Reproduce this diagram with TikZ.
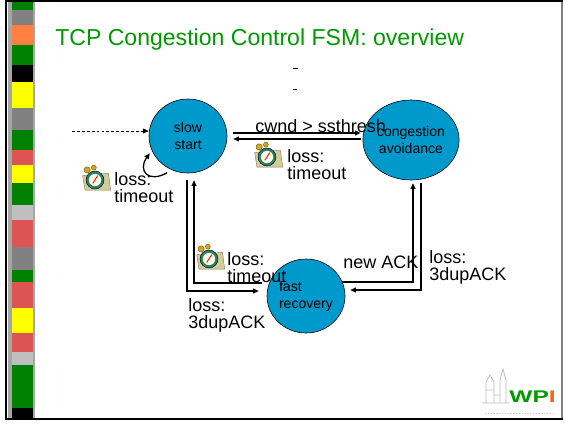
\documentclass[tikz,border=0pt]{standalone}
\usepackage{fontspec}
\setmainfont{Liberation Sans}
\usetikzlibrary{shapes, arrows.meta}
\definecolor{statecolor}{rgb}{0.0, 0.6, 0.8}
\definecolor{titlecolor}{rgb}{0.0, 0.6, 0.0}
\definecolor{bargreen}{rgb}{0.0, 0.5, 0.0}
\definecolor{barred}{rgb}{0.87, 0.33, 0.33}
\definecolor{baryellow}{rgb}{1.0, 1.0, 0.0}
\definecolor{barorange}{rgb}{1.0, 0.5, 0.25}
\definecolor{bargray}{rgb}{0.5, 0.5, 0.5}
\definecolor{barlight}{rgb}{0.75, 0.75, 0.75}
\definecolor{papercolor}{rgb}{0.84, 0.8, 0.6}
\definecolor{bellcolor}{rgb}{0.85, 0.65, 0.1}
\definecolor{ringcolor}{rgb}{0.15, 0.5, 0.4}
\definecolor{logored}{rgb}{0.95, 0.4, 0.1}

\tikzset{
  state/.style={ellipse, draw, fill=statecolor, minimum width=1.95cm, minimum height=1.85cm,
    inner sep=0pt, align=center, font=\fontsize{10}{12.1}\selectfont},
  edgetext/.style={inner sep=0pt, anchor=north west, align=left, font=\fontsize{12.8}{12.1}\selectfont},
  flow/.style={-{Triangle[length=4pt,width=3.5pt]}, line width=0.9pt},
  alarmclock/.pic={
    \filldraw[fill=papercolor, draw=papercolor!60!black, line width=0.3pt]
      (-11,-4) -- (12,-6) -- (14,9) -- (-9,9) -- cycle;
    \filldraw[fill=bellcolor, draw=bellcolor!50!black, line width=0.3pt] (-7,-9) circle (2.8);
    \filldraw[fill=bellcolor, draw=bellcolor!50!black, line width=0.3pt] (-1,-11) circle (2.2);
    \filldraw[fill=ringcolor, draw=black, line width=0.3pt] (0,0) circle (8);
    \fill[yellow!10] (0,0) circle (5.5);
    \draw[red, line width=0.6pt] (-2,3) -- (2.5,-4);
  }
}

\begin{document}
\begin{tikzpicture}[x=0.025cm, y=-0.025cm]
  \useasboundingbox (0,0) rectangle (565,424);

  % slide frame and side bar
  \draw[line width=1.2pt] (6,1) rectangle (562,419);
  \draw[bargray, line width=1pt] (562,2) -- (562,418);
  \fill[gray!70] (8,2) rectangle (35,418);
  \foreach \ya/\yb/\col in {2/10/bargreen, 10/25/bargray, 25/45/barorange, 45/65/bargreen,
      65/82/black, 82/108/baryellow, 108/130/bargray, 130/150/bargreen, 150/165/barred,
      165/183/baryellow, 183/205/bargreen, 205/220/barlight, 220/247/barred, 247/270/bargray,
      270/282/bargreen, 282/308/barred, 308/333/baryellow, 333/352/barred, 352/365/barlight,
      365/408/bargreen, 408/418/black}
    \fill[\col] (12,\ya) rectangle (33,\yb);

  \node[anchor=base west, inner sep=0pt, text=titlecolor, font=\fontsize{16.4}{18}\selectfont]
    (title) at (55,45) {TCP Congestion Control FSM: overview};
  \draw[line width=0.6pt] (293,68) -- (298,68);
  \draw[line width=0.6pt] (293,89) -- (297,89);

  % states
  \node[state] (S) at (188,136) {slow\\start};
  \node[state, minimum height=2cm] (C) at (411,140) {congestion\\avoidance};
  \node[state, align=left] (F) at (306,296) {fast\\recovery};

  \coordinate (entry) at (72,131);
  \draw[flow, line width=0.5pt, dash pattern=on 2pt off 1.5pt] (entry) -- (S.west |- entry);
  \draw[flow] ([shift={(-2,4)}]S.240) to[out=210, in=235, looseness=2.1] ([shift={(-4,-1)}]S.208);

  \draw[flow] ([shift={(6,-3)}]S.east) -- ([shift={(-2,-7)}]C.west);
  \draw[flow] ([shift={(-2,-1)}]C.west) -- ([shift={(6,3)}]S.east);

  \draw[flow] ([shift={(-1,7)}]S.south) |- ([shift={(-8,-5)}]F.west);
  \draw[flow] ([shift={(-5,-13)}]F.west) -| ([shift={(6,7)}]S.south);
  \draw[flow] ([shift={(-3,-14)}]F.east) -| ([shift={(2,3)}]C.south);
  \draw[flow] ([shift={(10,3)}]C.south) |- ([shift={(5,-6)}]F.east);

  % timeout clocks
  \pic[scale=1.12] at (95,180) {alarmclock};
  \pic[scale=1.12] at (267,157) {alarmclock};
  \pic[scale=1.12] at (209,259) {alarmclock};

  \node[edgetext, anchor=base west] (cwnd) at (255,132) {cwnd > ssthresh};
  \node[edgetext] (lossA) at (114,172) {loss:\\timeout};
  \node[edgetext] (lossB) at (287,149) {loss:\\timeout};
  \node[edgetext] (lossC) at (227,252) {loss:\\timeout};
  \node[edgetext] (lossD) at (188,298) {loss:\\3dupACK};
  \node[edgetext] (lossE) at (429,250) {loss:\\3dupACK};
  \node[edgetext, anchor=base west] (newack) at (343,268) {new ACK};

  % logo
  \draw[gray!50, line width=0.6pt] (486,403) -- (486,382) -- (490,375) -- (494,382) -- (494,403)
    (486,390) -- (494,390) (500,403) -- (500,380) -- (503,369) -- (506,380) -- (506,403)
    (494,395) -- (500,395) (482,403) -- (509,403);
  \node[anchor=base west, inner sep=0pt, xscale=1.45, transform shape,
    font=\bfseries\fontsize{12}{12}\selectfont] (wpi) at (509,402)
    {\textcolor{titlecolor}{WP}\textcolor{logored}{I}};
  \draw[gray!40, line width=0.4pt, dash pattern=on 1pt off 1pt] (485,413) -- (555,413);
\end{tikzpicture}
\end{document}
